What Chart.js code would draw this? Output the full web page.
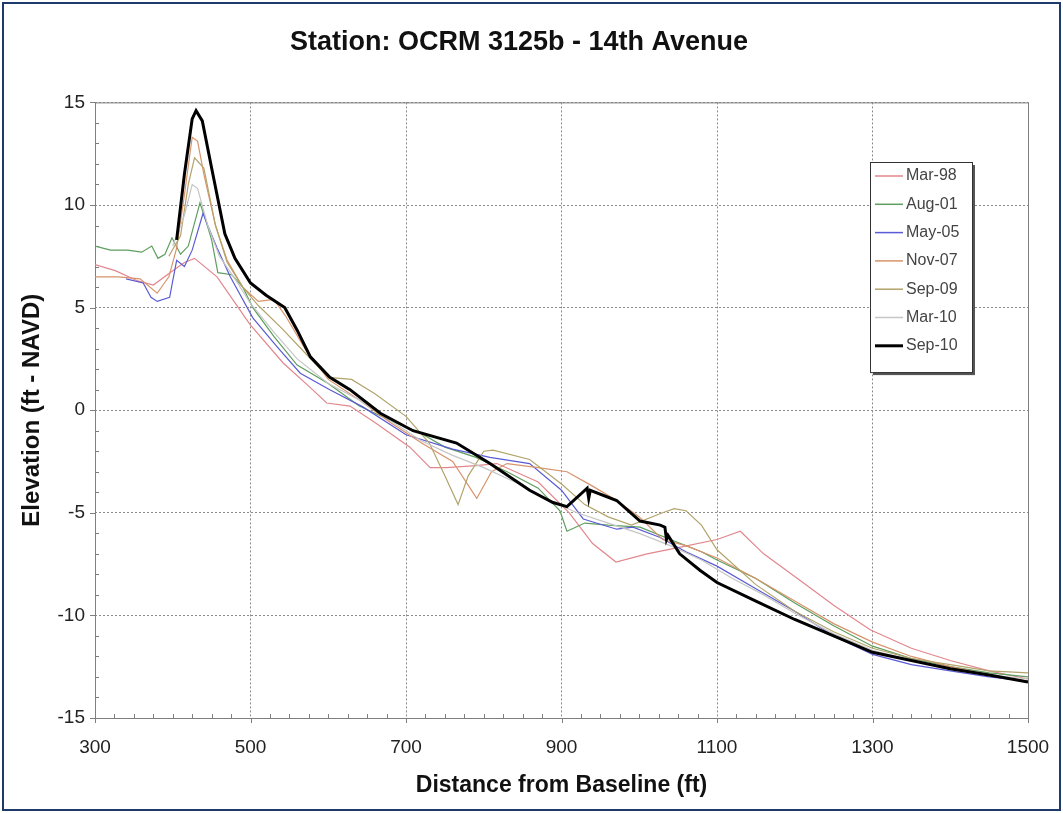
<!DOCTYPE html>
<html>
<head>
<meta charset="utf-8">
<title>Station: OCRM 3125b - 14th Avenue</title>
<script src="https://cdn.jsdelivr.net/npm/chart.js@4.4.0/dist/chart.umd.min.js"></script>
<style>
  html, body { margin: 0; padding: 0; background: #fff; }
  canvas { display: block; }
</style>
</head>
<body>
<canvas id="c" width="1063" height="813"></canvas>
<script>
// survey names, in legend order
const seriesNames = ['Mar-98', 'Aug-01', 'May-05', 'Nov-07', 'Sep-09', 'Mar-10', 'Sep-10'];
const seriesColors = ['#e2878d', '#5e9e5e', '#5b5bd6', '#d8936b', '#b3a46b', '#c6c6c6', '#000000'];

// axis ticks
const xTicks = [300, 500, 700, 900, 1100, 1300, 1500];
const yTicks = [-15, -10, -5, 0, 5, 10, 15];

// profiles (distance ft, elevation ft)
const mar98X = [300, 326, 355, 375, 400, 415, 428, 457, 499, 542, 577, 598, 628, 660, 705, 731, 752, 790, 817, 870, 910, 940, 970, 1010, 1050, 1100, 1130, 1160, 1207, 1250, 1297, 1350, 1400, 1450, 1500];
const mar98Y = [7.1, 6.8, 6.3, 6.1, 6.8, 7.2, 7.4, 6.5, 4.2, 2.3, 1.1, 0.35, 0.2, -0.6, -1.8, -2.8, -2.8, -2.7, -2.6, -3.5, -5.0, -6.5, -7.4, -7.0, -6.7, -6.3, -5.9, -7.0, -8.3, -9.5, -10.7, -11.6, -12.2, -12.7, -13.1];

const aug01X = [300, 320, 342, 360, 373, 381, 390, 399, 410, 420, 435, 442, 450, 458, 476, 490, 503, 530, 560, 600, 640, 680, 718, 750, 790, 830, 870, 898, 907, 930, 960, 1001, 1040, 1080, 1100, 1150, 1200, 1250, 1300, 1350, 1400, 1450, 1500];
const aug01Y = [8.0, 7.8, 7.8, 7.7, 8.0, 7.4, 7.6, 8.4, 7.6, 8.0, 10.1, 9.3, 8.3, 6.7, 6.6, 6.0, 5.0, 3.6, 2.2, 1.3, 0.2, -0.5, -1.1, -1.8, -2.3, -3.0, -3.8, -4.9, -5.9, -5.5, -5.6, -5.7, -6.3, -6.9, -7.3, -8.2, -9.4, -10.5, -11.5, -12.1, -12.5, -12.8, -13.0];

const may05X = [340, 362, 372, 380, 396, 405, 415, 425, 439, 445, 457, 474, 503, 534, 564, 602, 645, 700, 760, 808, 859, 900, 928, 971, 992, 1027, 1060, 1100, 1150, 1200, 1250, 1300, 1350, 1400, 1450, 1500];
const may05Y = [6.4, 6.2, 5.5, 5.3, 5.5, 7.3, 7.0, 7.8, 9.6, 9.0, 7.9, 6.5, 4.5, 3.1, 1.8, 1.0, 0.15, -1.2, -1.9, -2.3, -2.6, -3.9, -5.3, -5.8, -5.7, -6.2, -6.9, -7.6, -8.7, -9.8, -11.0, -11.9, -12.4, -12.7, -13.0, -13.2];

const nov07X = [300, 330, 358, 380, 395, 405, 415, 425, 432, 440, 455, 470, 490, 510, 530, 545, 570, 600, 640, 680, 720, 760, 791, 810, 830, 870, 907, 940, 971, 1000, 1030, 1060, 1100, 1150, 1200, 1250, 1300, 1350, 1400, 1450, 1500];
const nov07Y = [6.5, 6.5, 6.4, 5.7, 6.5, 7.9, 10.5, 13.3, 13.1, 11.5, 9.0, 7.3, 6.0, 5.3, 5.4, 4.6, 3.0, 1.5, 0.5, -0.6, -1.6, -2.5, -4.3, -3.0, -2.6, -2.8, -3.0, -3.7, -4.4, -5.2, -6.3, -6.6, -7.2, -8.2, -9.3, -10.4, -11.3, -12.0, -12.5, -12.9, -13.2];

const sep09X = [395, 410, 420, 428, 440, 455, 470, 490, 510, 540, 570, 600, 630, 660, 700, 730, 750, 767, 780, 800, 812, 859, 900, 930, 960, 990, 1030, 1045, 1060, 1080, 1100, 1150, 1200, 1250, 1300, 1350, 1400, 1450, 1500];
const sep09Y = [7.5, 8.5, 11.0, 12.3, 11.8, 9.0, 7.2, 6.0, 5.1, 4.0, 2.8, 1.6, 1.5, 0.8, -0.3, -1.6, -3.2, -4.6, -3.2, -2.0, -1.95, -2.4, -3.6, -4.6, -5.2, -5.6, -5.0, -4.8, -4.9, -5.6, -6.8, -8.5, -9.8, -10.8, -11.6, -12.1, -12.4, -12.7, -12.8];

const mar10X = [400, 415, 425, 432, 445, 460, 480, 500, 530, 560, 600, 640, 680, 720, 760, 800, 840, 880, 920, 960, 1000, 1040, 1080, 1120, 1160, 1200, 1250, 1300, 1350, 1400, 1450, 1500];
const mar10Y = [8.0, 9.5, 11.0, 10.8, 9.0, 7.5, 6.4, 5.2, 3.8, 2.5, 1.3, 0.5, -0.5, -1.5, -2.2, -2.8, -3.5, -4.3, -5.0, -5.5, -6.0, -6.6, -7.3, -8.2, -9.0, -9.9, -10.9, -11.7, -12.2, -12.6, -12.9, -13.1];

const sep10X = [405, 415, 425, 430, 438, 450, 467, 480, 500, 520, 544, 560, 577, 602, 628, 667, 709, 765, 808, 859, 889, 907, 933, 935, 937, 971, 1001, 1027, 1033, 1035, 1037, 1052, 1078, 1100, 1150, 1200, 1250, 1300, 1350, 1400, 1450, 1500];
const sep10Y = [8.3, 11.5, 14.2, 14.6, 14.1, 11.8, 8.6, 7.4, 6.2, 5.6, 5.0, 3.9, 2.6, 1.6, 1.0, -0.15, -1.0, -1.6, -2.6, -3.9, -4.5, -4.7, -3.8, -4.3, -3.9, -4.4, -5.4, -5.6, -5.7, -6.3, -6.1, -7.0, -7.8, -8.4, -9.3, -10.2, -11.0, -11.8, -12.2, -12.6, -12.9, -13.25];

const seriesX = [mar98X, aug01X, may05X, nov07X, sep09X, mar10X, sep10X];
const seriesY = [mar98Y, aug01Y, may05Y, nov07Y, sep09Y, mar10Y, sep10Y];

function toPoints(xs, ys) {
  return xs.map((x, i) => ({ x: x, y: ys[i] }));
}

const datasets = seriesNames.map((name, i) => ({
  label: name,
  data: toPoints(seriesX[i], seriesY[i]),
  borderColor: seriesColors[i],
  borderWidth: name === 'Sep-10' ? 3 : 1.2,
  pointRadius: 0,
  tension: 0,
  order: seriesNames.length - i
}));

// plot frame plus Excel style tick marks
const frameTicks = {
  id: 'frameTicks',
  beforeDatasetsDraw(chart) {
    const { ctx, chartArea: a, scales: { x, y } } = chart;
    ctx.save();
    ctx.strokeStyle = '#7f7f7f';
    ctx.lineWidth = 1;
    ctx.strokeRect(a.left + 0.5, a.top + 0.5, a.width, a.height);
    ctx.beginPath();
    for (let v = 300; v <= 1500; v += 25) {
      const px = Math.round(x.getPixelForValue(v)) + 0.5;
      if ((v - 300) % 200 === 0) {
        ctx.moveTo(px, a.bottom);
        ctx.lineTo(px, a.bottom + 5);
      } else {
        ctx.moveTo(px, a.bottom);
        ctx.lineTo(px, a.bottom - 4);
      }
    }
    for (let v = -15; v <= 15; v += 1) {
      const py = Math.round(y.getPixelForValue(v)) + 0.5;
      if (v % 5 === 0) {
        ctx.moveTo(a.left - 5, py);
        ctx.lineTo(a.left, py);
      } else {
        ctx.moveTo(a.left, py);
        ctx.lineTo(a.left + 4, py);
      }
    }
    ctx.stroke();
    ctx.restore();
  },
  afterDraw(chart) {
    const ctx = chart.ctx;
    ctx.save();
    ctx.strokeStyle = '#1d3a6b';
    ctx.lineWidth = 2;
    ctx.strokeRect(3, 3, chart.width - 6, chart.height - 6);
    ctx.restore();
  }
};

// legend box sitting inside the plot, as in the original
const boxLegend = {
  id: 'boxLegend',
  afterDraw(chart) {
    const ctx = chart.ctx;
    const left = 870, top = 162, w = 102, rowH = 28.3;
    const h = seriesNames.length * rowH + 12;
    ctx.save();
    ctx.fillStyle = '#555';
    ctx.fillRect(left + 3, top + 3, w, h);
    ctx.fillStyle = '#fff';
    ctx.fillRect(left, top, w, h);
    ctx.strokeStyle = '#333';
    ctx.lineWidth = 1;
    ctx.strokeRect(left + 0.5, top + 0.5, w, h);
    ctx.font = '16px Arial, "Liberation Sans", sans-serif';
    ctx.textBaseline = 'middle';
    seriesNames.forEach((name, i) => {
      const cy = top + 14 + i * rowH;
      ctx.strokeStyle = seriesColors[i];
      ctx.lineWidth = name === 'Sep-10' ? 3 : 1.5;
      ctx.beginPath();
      ctx.moveTo(left + 5, cy);
      ctx.lineTo(left + 33, cy);
      ctx.stroke();
      ctx.fillStyle = '#444';
      ctx.fillText(name, left + 36, cy);
    });
    ctx.restore();
  }
};

const font = 'Arial, "Liberation Sans", sans-serif';

new Chart(document.getElementById('c'), {
  type: 'line',
  data: { datasets: datasets },
  options: {
    responsive: false,
    animation: false,
    devicePixelRatio: 1,
    layout: { padding: { left: 10, right: 35, top: 0, bottom: 10 } },
    plugins: {
      legend: { display: false },
      tooltip: { enabled: false },
      title: {
        display: true,
        text: 'Station: OCRM 3125b - 14th Avenue',
        color: '#111',
        font: { family: font, size: 27, weight: 'bold' },
        padding: { top: 26, bottom: 44 }
      }
    },
    scales: {
      x: {
        type: 'linear',
        min: 300,
        max: 1500,
        afterBuildTicks: (s) => { s.ticks = xTicks.map(v => ({ value: v })); },
        afterFit: (s) => { s.height = 85; s.paddingLeft = 0; s.paddingRight = 0; },
        grid: { color: '#8a8a8a', lineWidth: 1, drawTicks: false },
        border: { display: false, dash: [2, 2] },
        ticks: { color: '#222', padding: 18, font: { family: font, size: 19 }, callback: (v) => String(v) },
        title: {
          display: true,
          text: 'Distance from Baseline (ft)',
          color: '#111',
          font: { family: font, size: 23, weight: 'bold' },
          padding: { top: 0, bottom: 4 }
        }
      },
      y: {
        type: 'linear',
        min: -15,
        max: 15,
        afterBuildTicks: (s) => { s.ticks = yTicks.map(v => ({ value: v })); },
        afterFit: (s) => { s.width = 85; },
        grid: { color: '#8a8a8a', lineWidth: 1, drawTicks: false },
        border: { display: false, dash: [2, 2] },
        ticks: { color: '#222', padding: 10, font: { family: font, size: 19 }, callback: (v) => String(v) },
        title: {
          display: true,
          text: 'Elevation (ft - NAVD)',
          color: '#111',
          font: { family: font, size: 24, weight: 'bold' },
          padding: { top: 8, bottom: 0 }
        }
      }
    }
  },
  plugins: [frameTicks, boxLegend]
});
</script>
</body>
</html>
